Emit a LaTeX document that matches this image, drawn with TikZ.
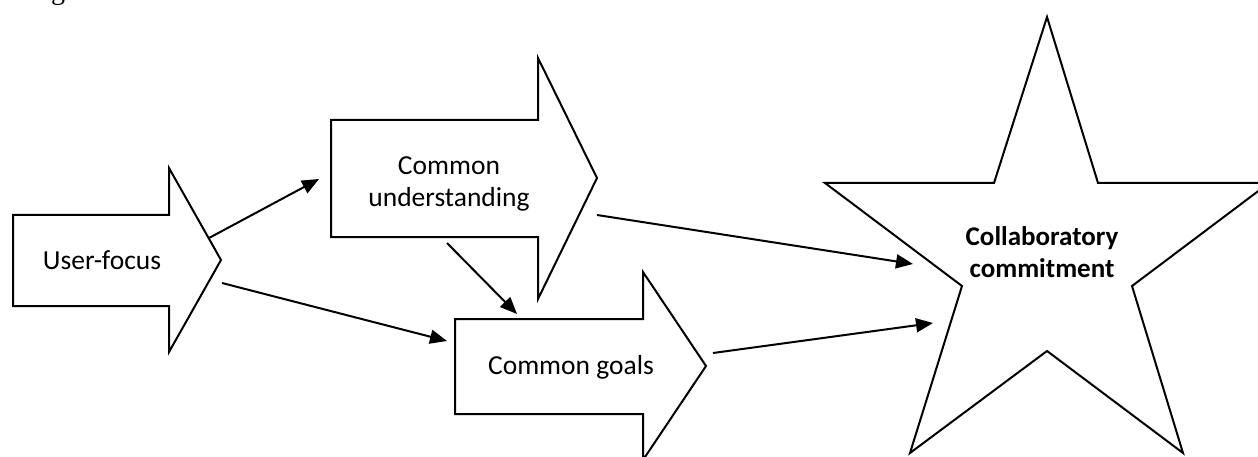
\documentclass[tikz,border=0pt]{standalone}
\usepackage{fontspec}
\setmainfont{Carlito}
\newfontfamily\seriffont{Liberation Serif}
\usetikzlibrary{arrows.meta}
\begin{document}
\begin{tikzpicture}[x=1pt,y=-1pt,
  shapeline/.style={draw=black, line width=2pt, line join=miter, fill=white},
  conn/.style={draw=black, line width=2pt, -{Triangle[length=17pt,width=14pt]}},
  lbl/.style={font=\fontsize{27.5}{32}\selectfont, align=center, inner sep=0pt},
  blbl/.style={font=\bfseries\fontsize{27}{32}\selectfont, align=center, inner sep=0pt}]
\useasboundingbox (0,0) rectangle (1258,457);
\begin{scope}
\clip (0,0) rectangle (1258,457);
% cut-off caption letter
\node[anchor=base, font=\seriffont\fontsize{28}{34}\selectfont, inner sep=0pt] (capg) at (58,0) {g};
% block arrows
\draw[shapeline] (13,215) -- (169,215) -- (169,168) -- (221,260) -- (169,352) -- (169,306) -- (13,306) -- cycle;
\draw[shapeline] (331,120) -- (538,120) -- (538,58) -- (597,178) -- (538,299) -- (538,237) -- (331,237) -- cycle;
\draw[shapeline] (455,319) -- (643,319) -- (643,272) -- (706,366) -- (643,460) -- (643,414) -- (455,414) -- cycle;
% star
\draw[shapeline] (1047,17) -- (1098,183) -- (1269,183) -- (1132,286) -- (1183,453) -- (1047,351) -- (910,453) -- (962,286) -- (825,183) -- (994,183) -- cycle;
\end{scope}
% labels
\node[lbl] (uf) at (102,260) {User-focus};
\node[lbl] (cu) at (449,184) {Common\\understanding};
\node[lbl] (cg) at (571,367) {Common goals};
\node[blbl] (cc) at (1042,252) {Collaboratory\\commitment};
% connector end points
\coordinate (uf-a) at (209,238);
\coordinate (uf-b) at (222,283);
\coordinate (cu-in) at (319,179);
\coordinate (cu-a) at (447,243);
\coordinate (cu-b) at (597,215);
\coordinate (cg-in1) at (447,341);
\coordinate (cg-in2) at (517,314);
\coordinate (cg-a) at (713,353);
\coordinate (cc-in1) at (913,264);
\coordinate (cc-in2) at (933,323);
% connectors
\draw[conn] (uf-a) -- (cu-in);
\draw[conn] (uf-b) -- (cg-in1);
\draw[conn] (cu-a) -- (cg-in2);
\draw[conn] (cu-b) -- (cc-in1);
\draw[conn] (cg-a) -- (cc-in2);
\end{tikzpicture}
\end{document}
